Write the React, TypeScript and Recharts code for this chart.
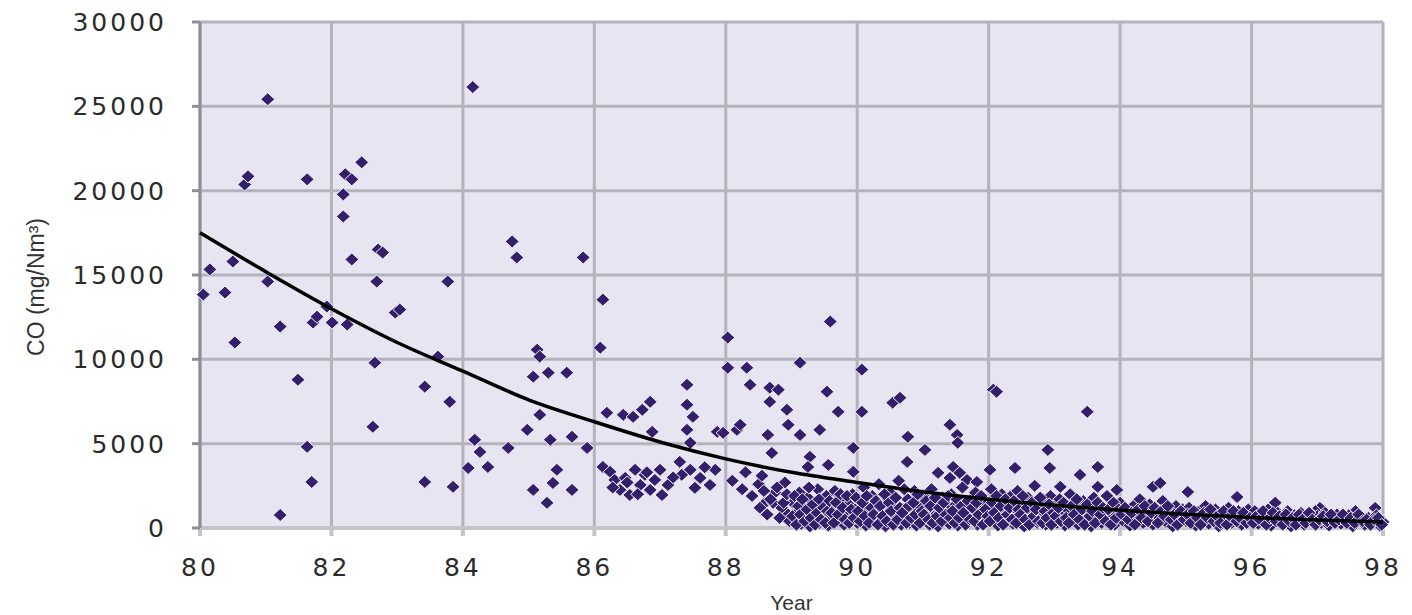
import {
  CartesianGrid,
  Scatter,
  ScatterChart,
  XAxis,
  YAxis,
} from 'recharts';

// [year, CO mg/Nm3]
const points1980to84 = [
  [80.05, 13840], [80.15, 15330], [80.38, 13960], [80.53, 11000], [80.5, 15800],
  [80.68, 20370], [80.73, 20850], [81.03, 25420], [81.03, 14610], [81.22, 11940],
  [81.22, 770], [81.49, 8790], [81.63, 20670], [81.63, 4810], [81.7, 2730],
  [81.72, 12180], [81.78, 12530], [81.93, 13130], [82.01, 12180], [82.18, 19780],
  [82.18, 18470], [82.21, 20970], [82.31, 20670], [82.46, 21680], [82.31, 15920],
  [82.24, 12060], [82.71, 16510], [82.78, 16330], [82.69, 14610], [82.66, 9800],
  [82.63, 6000], [82.97, 12770], [83.04, 12950], [83.42, 8380], [83.62, 10160],
  [83.77, 14610], [83.8, 7480], [83.42, 2730], [83.85, 2440],
];

const points1984to88 = [
  [84.15, 26140], [84.08, 3560], [84.18, 5230], [84.26, 4510], [84.38, 3620],
  [84.69, 4750], [84.75, 16990], [84.82, 16040], [84.98, 5820], [85.07, 8970],
  [85.13, 10570], [85.17, 10160], [85.3, 9210], [85.58, 9210], [85.17, 6710],
  [85.33, 5230], [85.66, 5410], [85.89, 4750], [85.43, 3450], [85.37, 2670],
  [85.07, 2260], [85.28, 1490], [85.66, 2260], [85.83, 16040], [86.09, 10690],
  [86.13, 13540], [86.13, 3620], [86.19, 6830], [86.44, 6710], [86.59, 6590],
  [86.73, 7010], [86.85, 7480], [86.88, 5700], [86.24, 3330], [86.31, 2850],
  [86.39, 2260], [86.47, 2970], [86.54, 1960], [86.7, 2550], [86.77, 3150],
  [86.85, 2260], [86.92, 2850], [87.03, 1960], [87.12, 2550], [87.0, 3450],
  [86.62, 3450], [87.41, 8490], [87.41, 7310], [87.5, 6590], [87.41, 5820],
  [87.46, 5050], [87.87, 5700], [87.3, 3920], [87.46, 3450], [87.61, 2970],
  [87.76, 2550], [87.53, 2380], [87.84, 3450], [87.33, 3150], [86.28, 2400],
  [86.5, 2700], [86.66, 2000], [86.8, 3300], [87.2, 3000], [87.68, 3600],
];

const points1988to98 = [
  [88.17, 5820], [88.03, 11290], [88.03, 9500], [88.32, 9500], [88.37, 8490],
  [88.67, 8320], [88.8, 8200], [88.67, 7480], [88.22, 6120], [87.96, 5640],
  [88.64, 5520], [88.95, 6120], [89.13, 5520], [88.93, 7010], [89.13, 9800],
  [89.43, 5820], [89.54, 8080], [89.59, 12240], [89.71, 6890], [90.07, 6890],
  [90.07, 9390], [89.94, 4750], [88.7, 4450], [89.28, 4220], [89.56, 3740],
  [89.25, 3620], [89.94, 3330], [90.54, 7430], [90.65, 7720], [90.77, 5410],
  [90.76, 3920], [91.03, 4630], [91.41, 6120], [91.52, 5520], [91.53, 5050],
  [91.46, 3620], [91.56, 3270], [91.67, 2850], [91.23, 3270], [91.41, 2970],
  [91.82, 2730], [92.02, 3450], [92.07, 8200], [92.12, 8080], [92.4, 3560],
  [92.9, 4630], [92.93, 3560], [93.09, 2440], [93.39, 3150], [93.5, 6890],
  [93.66, 3620], [93.66, 2440], [93.95, 2260], [94.5, 2440], [94.61, 2670],
  [95.03, 2140], [95.78, 1840], [97.04, 1190], [97.88, 1190], [96.36, 1500],
  [96.97, 1000], [97.58, 1000], [88.1, 2800], [88.25, 2300], [88.4, 1900],
  [88.5, 2600], [88.6, 1500], [88.75, 2100], [88.85, 1200], [88.9, 2700],
  [88.95, 800], [88.55, 3100], [88.3, 3300], [88.72, 1490],
];

// dense low band, 1989-1998
const bandPoints = [
  [89.02, 1500], [89.05, 400], [89.08, 900], [89.12, 2100], [89.15, 250], [89.18, 1200],
  [89.22, 700], [89.25, 1800], [89.28, 100], [89.3, 1000], [89.34, 500], [89.37, 1500],
  [89.4, 2300], [89.43, 300], [89.46, 1100], [89.5, 700], [89.53, 1900], [89.56, 150],
  [89.6, 1300], [89.63, 600], [89.66, 2200], [89.7, 400], [89.73, 1000], [89.77, 1600],
  [89.8, 200], [89.83, 800], [89.87, 1400], [89.9, 500], [89.93, 2000], [89.97, 1100],
  [90.0, 300], [90.03, 1700], [90.06, 800], [90.1, 2400], [90.13, 150], [90.16, 1200],
  [90.2, 600], [90.23, 1900], [90.27, 350], [90.3, 1000], [90.33, 2600], [90.37, 500],
  [90.4, 1400], [90.43, 100], [90.47, 900], [90.5, 2100], [90.53, 400], [90.57, 1300],
  [90.6, 700], [90.63, 2800], [90.67, 200], [90.7, 1100], [90.73, 500], [90.77, 1700],
  [90.8, 300], [90.84, 900], [90.87, 2200], [90.9, 150], [90.94, 1300], [90.97, 600],
  [91.0, 1900], [91.03, 400], [91.07, 1100], [91.1, 200], [91.13, 2300], [91.17, 700],
  [91.2, 1500], [91.23, 100], [91.27, 900], [91.3, 1800], [91.33, 450], [91.37, 1200],
  [91.4, 250], [91.43, 2000], [91.47, 650], [91.5, 1400], [91.53, 150], [91.57, 1000],
  [91.6, 2400], [91.63, 500], [91.67, 1300], [91.7, 300], [91.73, 1700], [91.77, 800],
  [91.8, 2100], [91.83, 200], [91.87, 1100], [91.9, 550], [91.93, 1600], [91.97, 350],
  [92.0, 1200], [92.04, 2300], [92.07, 500], [92.1, 1600], [92.14, 150], [92.17, 900],
  [92.2, 2000], [92.24, 400], [92.27, 1300], [92.3, 700], [92.34, 1900], [92.37, 250],
  [92.4, 1000], [92.44, 2200], [92.47, 600], [92.5, 1500], [92.54, 100], [92.57, 1100],
  [92.6, 1800], [92.64, 450], [92.67, 900], [92.7, 2500], [92.74, 300], [92.77, 1400],
  [92.8, 700], [92.84, 1700], [92.87, 200], [92.9, 1000], [92.94, 1900], [92.97, 500],
  [93.0, 1300], [93.04, 300], [93.08, 1700], [93.12, 800], [93.16, 150], [93.2, 1100],
  [93.24, 2000], [93.28, 500], [93.32, 1400], [93.36, 200], [93.4, 900], [93.44, 1600],
  [93.48, 400], [93.52, 1200], [93.56, 100], [93.6, 1800], [93.64, 700], [93.68, 1300],
  [93.72, 300], [93.76, 1000], [93.8, 1900], [93.84, 550], [93.88, 1200], [93.92, 200],
  [93.96, 800], [94.0, 1500], [94.05, 400], [94.1, 1000], [94.15, 150], [94.2, 1300],
  [94.25, 700], [94.3, 1700], [94.35, 300], [94.4, 900], [94.45, 1400], [94.5, 200],
  [94.55, 1100], [94.6, 600], [94.65, 1600], [94.7, 350], [94.75, 1000], [94.8, 100],
  [94.85, 1300], [94.9, 650], [94.95, 1100], [95.0, 400], [95.05, 1200], [95.1, 700],
  [95.15, 150], [95.2, 1000], [95.25, 500], [95.3, 1300], [95.35, 250], [95.4, 800],
  [95.45, 1100], [95.5, 100], [95.55, 900], [95.6, 500], [95.65, 1200], [95.7, 300],
  [95.75, 800], [95.8, 1000], [95.85, 200], [95.9, 700], [95.95, 1100], [96.0, 600],
  [96.05, 1000], [96.1, 250], [96.15, 800], [96.2, 400], [96.25, 1100], [96.3, 150],
  [96.35, 700], [96.4, 900], [96.45, 300], [96.5, 600], [96.55, 1000], [96.6, 100],
  [96.65, 750], [96.7, 450], [96.75, 900], [96.8, 200], [96.85, 650], [96.9, 850],
  [96.95, 350], [97.0, 700], [97.06, 300], [97.12, 900], [97.18, 150], [97.24, 600],
  [97.3, 800], [97.36, 250], [97.42, 550], [97.48, 750], [97.54, 100], [97.6, 500],
  [97.66, 700], [97.72, 200], [97.78, 600], [97.84, 400], [97.9, 750], [97.95, 150],
  [98.0, 350],
];

// second pass over the band, filling between the first
const bandPointsFill = [
  [88.52, 1200], [88.58, 2200], [88.63, 800], [88.68, 1700], [88.78, 2400], [88.82, 600],
  [88.88, 1500], [88.93, 2000], [88.97, 400],
  [89.015, 700], [89.045, 1900], [89.075, 200], [89.105, 1300], [89.135, 800], [89.165, 1700],
  [89.2, 400], [89.235, 1100], [89.265, 2400], [89.295, 600], [89.325, 1400], [89.36, 200],
  [89.39, 900], [89.42, 1700], [89.45, 500], [89.485, 1200], [89.515, 300], [89.545, 1000],
  [89.58, 1600], [89.61, 900], [89.645, 300], [89.68, 1500], [89.71, 800], [89.745, 2000],
  [89.78, 1200], [89.81, 500], [89.845, 1900], [89.88, 300], [89.91, 1100], [89.95, 600],
  [89.985, 1800], [90.015, 1000], [90.045, 400], [90.08, 1500], [90.115, 700], [90.145, 1900],
  [90.18, 300], [90.215, 1200], [90.25, 800], [90.285, 1600], [90.315, 200], [90.35, 1300],
  [90.385, 700], [90.415, 2000], [90.45, 400], [90.485, 1500], [90.515, 1000], [90.55, 200],
  [90.585, 1800], [90.615, 500], [90.65, 1200], [90.685, 900], [90.715, 2300], [90.75, 300],
  [90.785, 1300], [90.82, 600], [90.855, 1500], [90.885, 800], [90.92, 2000], [90.955, 300],
  [90.985, 1000], [91.015, 800], [91.05, 1600], [91.085, 500], [91.115, 1300], [91.15, 300],
  [91.185, 1800], [91.215, 700], [91.25, 1200], [91.285, 400], [91.315, 1500], [91.35, 800],
  [91.385, 1900], [91.415, 600], [91.45, 1000], [91.485, 300], [91.515, 1700], [91.55, 600],
  [91.585, 1300], [91.615, 900], [91.65, 200], [91.685, 1600], [91.715, 500], [91.75, 1200],
  [91.785, 400], [91.815, 1500], [91.85, 800], [91.885, 1900], [91.915, 200], [91.95, 1100],
  [91.985, 700], [92.02, 400], [92.055, 1500], [92.085, 900], [92.12, 1900], [92.155, 600],
  [92.185, 1300], [92.22, 200], [92.255, 1700], [92.285, 800], [92.32, 1200], [92.355, 500],
  [92.385, 1600], [92.42, 300], [92.455, 1100], [92.485, 800], [92.52, 1900], [92.555, 500],
  [92.585, 1200], [92.62, 200], [92.655, 1500], [92.685, 700], [92.72, 1100], [92.755, 400],
  [92.785, 1800], [92.82, 300], [92.855, 1000], [92.885, 600], [92.92, 1400], [92.955, 200],
  [92.985, 900], [93.02, 700], [93.06, 1200], [93.1, 400], [93.14, 1500], [93.18, 600],
  [93.22, 300], [93.26, 1300], [93.3, 800], [93.34, 1700], [93.38, 500], [93.42, 1100],
  [93.46, 200], [93.5, 1400], [93.54, 700], [93.58, 1000], [93.62, 300], [93.66, 1500],
  [93.7, 800], [93.74, 1200], [93.78, 400], [93.82, 1100], [93.86, 200], [93.9, 1500],
  [93.94, 600], [93.98, 1100], [94.025, 800], [94.075, 1200], [94.125, 500], [94.175, 900],
  [94.225, 200], [94.275, 1100], [94.325, 600], [94.375, 1300], [94.425, 400], [94.475, 900],
  [94.525, 1200], [94.575, 300], [94.625, 1000], [94.675, 700], [94.725, 1300], [94.775, 500],
  [94.825, 800], [94.875, 200], [94.925, 1000], [94.975, 500], [95.025, 800], [95.075, 300],
  [95.125, 1000], [95.175, 600], [95.225, 200], [95.275, 900], [95.325, 600], [95.375, 1100],
  [95.425, 400], [95.475, 700], [95.525, 300], [95.575, 1000], [95.625, 200], [95.675, 700],
  [95.725, 1000], [95.775, 400], [95.825, 600], [95.875, 900], [95.925, 300], [95.975, 600],
  [96.025, 300], [96.075, 700], [96.125, 500], [96.175, 1000], [96.225, 200], [96.275, 600],
  [96.325, 900], [96.375, 400], [96.425, 700], [96.475, 200], [96.525, 800], [96.575, 400],
  [96.625, 600], [96.675, 200], [96.725, 800], [96.775, 500], [96.825, 300], [96.875, 900],
  [96.925, 500], [96.975, 200], [97.03, 500], [97.09, 700], [97.15, 400], [97.21, 800],
  [97.27, 300], [97.33, 500], [97.39, 800], [97.45, 300], [97.51, 600], [97.57, 300],
  [97.63, 800], [97.69, 400], [97.75, 500], [97.81, 200], [97.87, 500], [97.93, 600],
  [97.98, 200],
];

// fitted trend curve, read at each year
const trendYears = [80, 81, 82, 83, 84, 85, 86, 87, 88, 89, 90, 91, 92, 93, 94, 95, 96, 97, 98];
const trendValues = [17500, 15200, 13000, 11000, 9300, 7600, 6300, 5100, 4100, 3300, 2700, 2150, 1700, 1350, 1050, 820, 620, 480, 350];

const xTicks = [80, 82, 84, 86, 88, 90, 92, 94, 96, 98];
const yTicks = [0, 5000, 10000, 15000, 20000, 25000, 30000];

const scatterData = [
  ...points1980to84,
  ...points1984to88,
  ...points1988to98,
  ...bandPoints,
  ...bandPointsFill,
].map(([year, co]) => ({ year, co }));
const trendData = trendYears.map((year, i) => ({ year, co: trendValues[i] }));

const Diamond = (props: any) => {
  const { cx, cy } = props;
  if (cx == null || cy == null) return <g />;
  return (
    <path
      d={`M${cx},${cy - 6.5}L${cx + 7},${cy}L${cx},${cy + 6.5}L${cx - 7},${cy}Z`}
      fill='#34206a'
      stroke='#f1f0f9'
      strokeWidth={1}
    />
  );
};

const tickStyle = {
  fontFamily: 'DejaVu Sans',
  fontSize: 25,
  fill: '#2a2a2a',
  letterSpacing: 3,
};

const App = () => {
  return (
    <div style={{ width: 1396, height: 607 }}>
      <ScatterChart
        width={1396}
        height={607}
        margin={{ top: 14, right: 21, left: 92, bottom: 37 }}
      >
        <CartesianGrid
          fill='#e6e5f1'
          stroke='#b4b2bc'
          strokeWidth={3}
        />
        <XAxis
          type='number'
          dataKey='year'
          domain={[80, 98]}
          ticks={xTicks}
          height={50}
          tickSize={8}
          tickMargin={22}
          tick={tickStyle}
          stroke='#c4c3ca'
          strokeWidth={4}
          label={{
            value: 'Year',
            position: 'bottom',
            offset: 17,
            style: { fontFamily: 'Liberation Sans', fontSize: 21, fill: '#333' },
          }}
        />
        <YAxis
          type='number'
          dataKey='co'
          domain={[0, 30000]}
          ticks={yTicks}
          width={100}
          tickSize={8}
          tickMargin={25}
          tick={tickStyle}
          stroke='#8f8e96'
          strokeWidth={3}
          label={{
            value: 'CO (mg/Nm³)',
            angle: -90,
            position: 'left',
            offset: 64,
            dy: 12,
            style: { fontFamily: 'Liberation Sans', fontSize: 23, fill: '#333', textAnchor: 'middle' },
          }}
        />
        <Scatter
          data={scatterData}
          shape={Diamond}
          isAnimationActive={false}
        />
        <Scatter
          data={trendData}
          line={{ stroke: '#000', strokeWidth: 3.5 }}
          lineJointType='monotoneX'
          shape={() => <g />}
          isAnimationActive={false}
        />
      </ScatterChart>
    </div>
  );
};

export default App;
